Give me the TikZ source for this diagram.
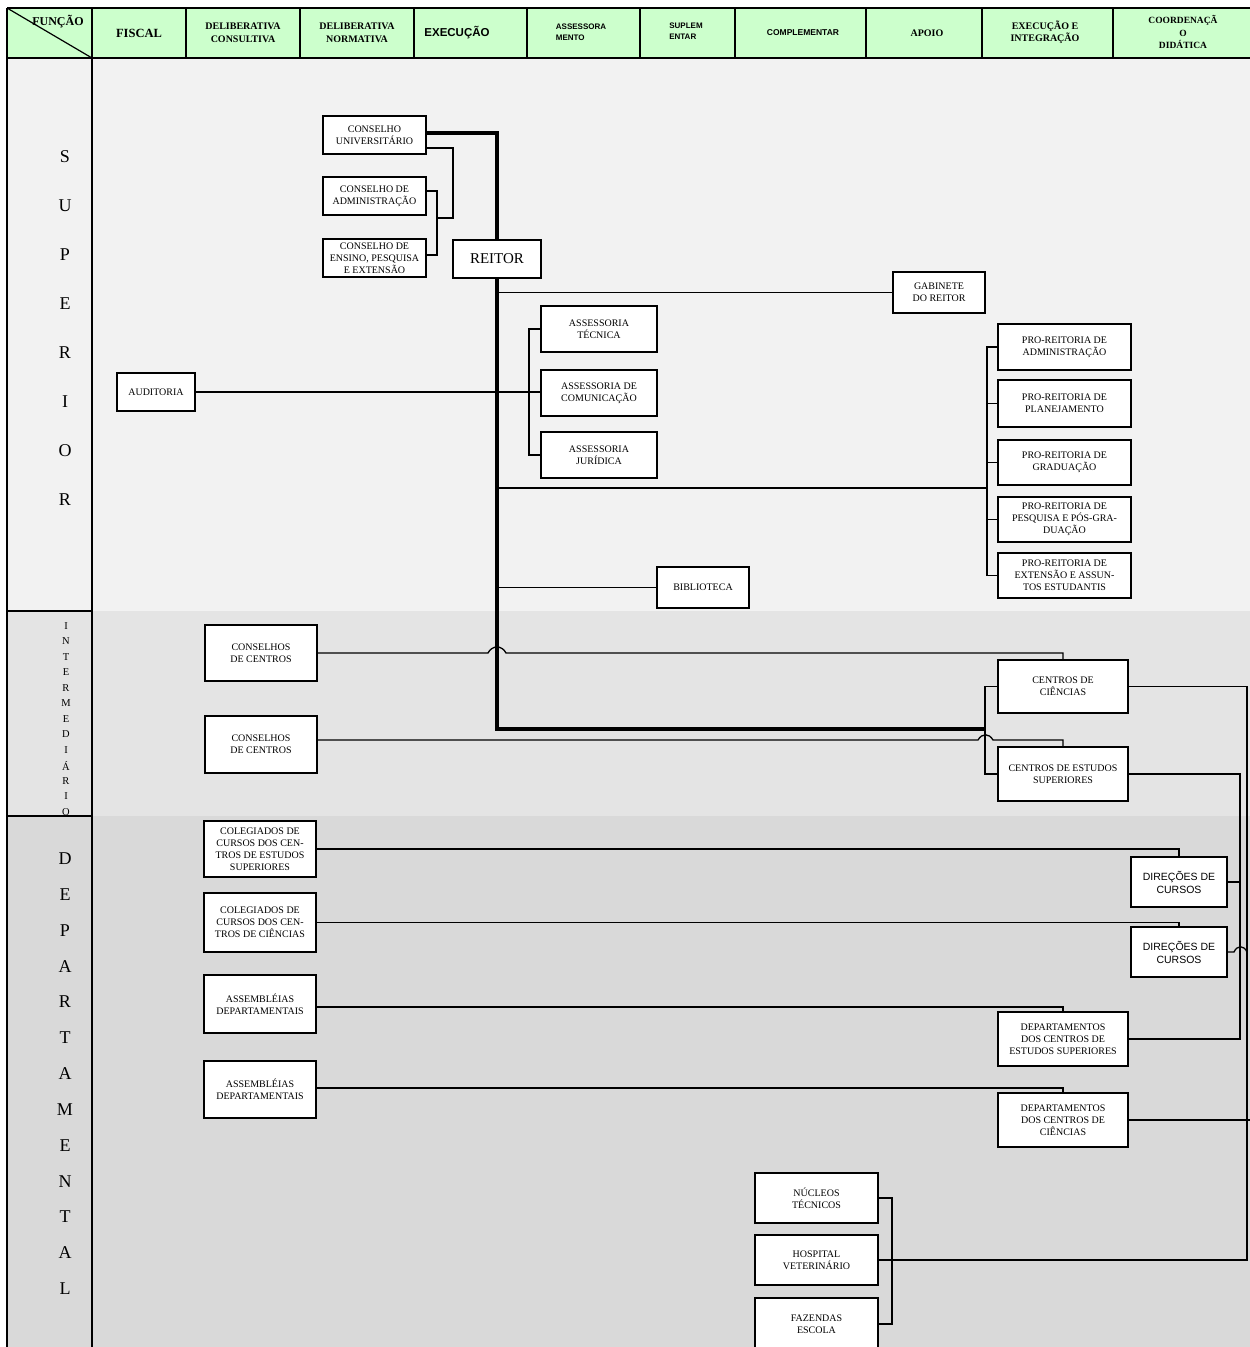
\documentclass[tikz,border=0pt]{standalone}
\usepackage{fontspec}
\setmainfont{Liberation Serif}
\newfontfamily\arial{Liberation Sans}
\definecolor{hdr}{HTML}{CCFFCC}
\definecolor{supbg}{HTML}{F2F2F2}
\definecolor{intbg}{HTML}{E4E4E4}
\definecolor{depbg}{HTML}{D9D9D9}
\tikzset{
  box/.style={draw, line width=1.7pt, fill=white, align=center, inner sep=1pt,
    font=\fontsize{10}{12}\selectfont},
  sbox/.style={box, font=\arial\fontsize{10.5}{13}\selectfont},
  ln/.style={line width=1.3pt},
  trunk/.style={line width=4.5pt},
  grid/.style={line width=1.5pt},
  hs/.style={font=\bfseries\fontsize{10}{13}\selectfont, align=center, inner sep=0pt},
  ha/.style={font=\arial\bfseries\fontsize{8}{11}\selectfont, align=left, inner sep=0pt},
  bigl/.style={font=\fontsize{18}{18}\selectfont, inner sep=0pt},
  smalll/.style={font=\fontsize{10.5}{10.5}\selectfont, inner sep=0pt},
}
\begin{document}
\begin{tikzpicture}[x=1pt,y=-1pt]
\useasboundingbox (0,0) rectangle (1250,1347);
% backgrounds
\fill[white] (0,0) rectangle (1250,1347);
\fill[hdr] (7,8) rectangle (1250,58);
\fill[supbg] (7,58) rectangle (1250,611);
\fill[intbg] (7,611) rectangle (1250,816);
\fill[depbg] (7,816) rectangle (1250,1347);
% grid
\draw[grid] (7,8) -- (1250,8);
\draw[grid] (7,58) -- (1250,58);
\draw[grid] (7,8) -- (7,1347);
\draw[grid] (92,8) -- (92,1347);
\foreach \x in {186,300,414,527,640,735,866,982,1113} \draw[grid] (\x,8) -- (\x,58);
\draw[grid] (7,611) -- (92,611);
\draw[grid] (7,816) -- (92,816);
\draw[line width=1.2pt] (7,8) -- (92,58);
% header texts
\node[hs, font=\bfseries\fontsize{12}{13}\selectfont] (h0) at (58,22) {FUNÇÃO};
\node[hs, font=\bfseries\fontsize{12.5}{13}\selectfont] (h1) at (139,33) {FISCAL};
\node[hs] (h2) at (243,33) {DELIBERATIVA\\CONSULTIVA};
\node[hs] (h3) at (357,33) {DELIBERATIVA\\NORMATIVA};
\node[hs, font=\arial\bfseries\fontsize{11.5}{13}\selectfont] (h4) at (457,33) {EXECUÇÃO};
\node[ha] (h5) at (581,32) {ASSESSORA\\MENTO};
\node[ha] (h6) at (686,31) {SUPLEM\\ENTAR};
\node[ha, font=\arial\bfseries\fontsize{8.5}{11}\selectfont] (h7) at (803,33) {COMPLEMENTAR};
\node[hs] (h8) at (927,33) {APOIO};
\node[hs, font=\bfseries\fontsize{10}{11.5}\selectfont] (h9) at (1045,32) {EXECUÇÃO E\\INTEGRAÇÃO};
\node[hs, font=\bfseries\fontsize{9.5}{12.5}\selectfont] (h10) at (1183,32) {COORDENAÇÃ\\O\\DIDÁTICA};
% side letters
\foreach \l [count=\i] in {S,U,P,E,R,I,O,R}
  \node[bigl] (sup\i) at (65,{157+(\i-1)*49}) {\l};
\foreach \l [count=\i] in {I,N,T,E,R,M,E,D,I,Á,R,I,O}
  \node[smalll] (int\i) at (66,{626+(\i-1)*15.5}) {\l};
\foreach \l [count=\i] in {D,E,P,A,R,T,A,M,E,N,T,A,L}
  \node[bigl] (dep\i) at (65,{858.7+(\i-1)*35.83}) {\l};
% boxes
\node[box, minimum width=103, minimum height=38] (CU) at (374.5,135) {CONSELHO\\UNIVERSITÁRIO};
\node[box, minimum width=103, minimum height=38] (CA) at (374.5,196) {CONSELHO DE\\ADMINISTRAÇÃO};
\node[box, minimum width=103, minimum height=38] (CE) at (374.5,258) {CONSELHO DE\\ENSINO, PESQUISA\\E EXTENSÃO};
\node[box, minimum width=88, minimum height=38, font=\fontsize{15}{16}\selectfont] (REITOR) at (497,259) {REITOR};
\node[box, minimum width=92, minimum height=41] (GAB) at (939,292.5) {GABINETE\\DO REITOR};
\node[box, minimum width=116, minimum height=46] (AT) at (599,329) {ASSESSORIA\\TÉCNICA};
\node[box, minimum width=116, minimum height=46] (AC) at (599,393) {ASSESSORIA DE\\COMUNICAÇÃO};
\node[box, minimum width=116, minimum height=46] (AJ) at (599,455) {ASSESSORIA\\JURÍDICA};
\node[box, minimum width=78, minimum height=38] (AUD) at (156,392) {AUDITORIA};
\node[box, minimum width=133, minimum height=46] (PR1) at (1064.5,347) {PRO-REITORIA DE\\ADMINISTRAÇÃO};
\node[box, minimum width=133, minimum height=47] (PR2) at (1064.5,403.5) {PRO-REITORIA DE\\PLANEJAMENTO};
\node[box, minimum width=133, minimum height=45] (PR3) at (1064.5,462.5) {PRO-REITORIA DE\\GRADUAÇÃO};
\node[box, minimum width=133, minimum height=45] (PR4) at (1064.5,519.5) {PRO-REITORIA DE\\PESQUISA E PÓS-GRA-\\DUAÇÃO};
\node[box, minimum width=133, minimum height=45] (PR5) at (1064.5,575.5) {PRO-REITORIA DE\\EXTENSÃO E ASSUN-\\TOS ESTUDANTIS};
\node[box, minimum width=92, minimum height=41] (BIB) at (703,587.5) {BIBLIOTECA};
\node[box, minimum width=112, minimum height=56] (CDC1) at (261,653) {CONSELHOS\\DE CENTROS};
\node[box, minimum width=112, minimum height=57] (CDC2) at (261,744.5) {CONSELHOS\\DE CENTROS};
\node[box, minimum width=130, minimum height=53] (CC) at (1063,686.5) {CENTROS DE\\CIÊNCIAS};
\node[box, minimum width=130, minimum height=54] (CES) at (1063,774) {CENTROS DE ESTUDOS\\SUPERIORES};
\node[box, minimum width=112, minimum height=56] (COL1) at (260,849) {COLEGIADOS DE\\CURSOS DOS CEN-\\TROS DE ESTUDOS\\SUPERIORES};
\node[box, minimum width=112, minimum height=59] (COL2) at (260,922.5) {COLEGIADOS DE\\CURSOS DOS CEN-\\TROS DE CIÊNCIAS};
\node[box, minimum width=112, minimum height=58] (ASS1) at (260,1004) {ASSEMBLÉIAS\\DEPARTAMENTAIS};
\node[box, minimum width=112, minimum height=57] (ASS2) at (260,1089.5) {ASSEMBLÉIAS\\DEPARTAMENTAIS};
\node[sbox, minimum width=96, minimum height=50] (DIR1) at (1179,882) {DIREÇÕES DE\\CURSOS};
\node[sbox, minimum width=96, minimum height=50] (DIR2) at (1179,952) {DIREÇÕES DE\\CURSOS};
\node[box, minimum width=130, minimum height=54] (DCES) at (1063,1039) {DEPARTAMENTOS\\DOS CENTROS DE\\ESTUDOS SUPERIORES};
\node[box, minimum width=130, minimum height=54] (DCC) at (1063,1120) {DEPARTAMENTOS\\DOS CENTROS DE\\CIÊNCIAS};
\node[box, minimum width=123, minimum height=50] (NT) at (816.5,1198) {NÚCLEOS\\TÉCNICOS};
\node[box, minimum width=123, minimum height=50] (HV) at (816.5,1260) {HOSPITAL\\VETERINÁRIO};
\node[box, minimum width=123, minimum height=52] (FE) at (816.5,1324) {FAZENDAS\\ESCOLA};
% junction coordinates
\coordinate (tEnd) at (985,729);
\coordinate (jA) at (453,148);
\coordinate (jB) at (453,218);
\coordinate (jC) at (437,218);
\coordinate (jD) at (437,191);
\coordinate (jE) at (437,255);
\coordinate (asT) at (529,329);
\coordinate (asJ) at (529,455);
\coordinate (prT) at (987,347);
\coordinate (prB) at (987,575.5);
\coordinate (prM) at (987,488);
\coordinate (trPR) at (497,488);
\coordinate (trGAB) at (497,292.5);
\coordinate (trBIB) at (497,587.5);
\coordinate (ccT) at (985,686.5);
\coordinate (ccB) at (985,774);
\coordinate (rA) at (1247,686.5);
\coordinate (rB) at (1247,1260);
\coordinate (rC) at (1240,774);
\coordinate (rD) at (1240,1039);
\coordinate (nkT) at (892,1198);
\coordinate (nkB) at (892,1324);
% thick trunk
\draw[trunk] ([yshift=2pt]CU.east) -| (REITOR.north);
\draw[trunk] (REITOR.south) |- (tEnd);
% councils
\draw[ln] ([yshift=-13pt]CU.east) -- (jA) -- (jB) -- (jC);
\draw[ln] ([yshift=5pt]CA.east) -- (jD) -- (jE) -- ([yshift=3pt]CE.east);
% reitor branches
\draw[ln] (trGAB) -- (GAB.west);
\draw[ln] (AUD.east) -- (AUD.east -| AC.west);
\draw[ln] (AT.west) -- (asT) -- (asJ) -- (AJ.west);
\draw[ln] (trPR) -- (prM);
\draw[ln] (PR1.west) -- (prT) -- (prB) -- (PR5.west);
\foreach \n in {PR2,PR3,PR4} \draw[ln] (\n.west) -- (\n.west -| prT);
\draw[ln] (trBIB) -- (BIB.west);
% intermediate
\draw[ln] (CDC1.east) -- (488,653) .. controls (492,645) and (502,645) .. (506,653) -- (1063,653) -- (CC.north);
\draw[ln] ([yshift=4.5pt]CDC2.east) -- (978,740) .. controls (982,733) and (989,733) .. (993,740) -- (1063,740) -- (CES.north);
\draw[ln] (CC.west) -- (ccT) -- (ccB) -- (CES.west);
\draw[ln] (CC.east) -- (rA) -- (rB) -- (HV.east);
\draw[ln] (CES.east) -- (rC) -- (rD) -- (DCES.east);
% departmental
\draw[ln] (COL1.east) -- (COL1.east -| DIR1.north) -- (DIR1.north);
\draw[ln] (COL2.east) -- (COL2.east -| DIR2.north) -- (DIR2.north);
\draw[ln] ([yshift=-3pt]ASS1.east) -- (1063,1007) -- (DCES.north);
\draw[ln] ([yshift=1.5pt]ASS2.east) -- (1063,1088) -- (DCC.north);
\draw[ln] (DIR1.east) -- (DIR1.east -| rC);
\draw[ln] (DIR2.east) -- (1234,952) .. controls (1237,945) and (1244,945) .. (1247,952);
\draw[ln] (DCC.east) -- (1250,1120);
\draw[ln] (NT.east) -- (nkT) -- (nkB) -- (FE.east);
\end{tikzpicture}
\end{document}
